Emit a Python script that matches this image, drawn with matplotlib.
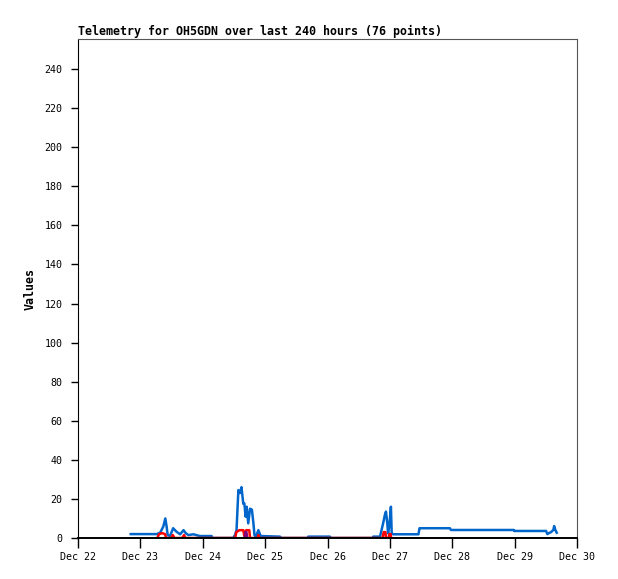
import matplotlib
matplotlib.use('Agg')
import matplotlib.pyplot as plt
import matplotlib.dates as mdates
import pandas as pd

# telemetry, hours after Dec 22 00:00
start = pd.Timestamp('2023-12-22 00:00')

blue_hours = [20.3, 30.3, 31.6, 32.8, 33.6, 34.1, 34.5, 35.4, 36.6, 37.9, 39.3, 40.6, 41.5, 42.5, 44.4, 46.9,
              51.4, 51.7, 59.7, 60.4, 61.0, 61.7, 62.3, 62.9, 63.6, 64.0, 64.5, 64.9, 65.5, 66.2, 66.9, 67.5,
              67.9, 68.4, 69.4, 70.3, 77.7, 78.2, 88.5, 88.6, 96.9, 97.4, 113.5, 113.6, 116.2, 117.4, 118.1,
              118.5, 119.0, 119.3, 119.8, 120.4, 120.7, 121.3, 131.0, 131.4, 143.1, 143.5, 167.7, 167.9,
              180.1, 180.6, 181.2, 182.0, 182.9, 183.2, 183.7, 184.2]
blue_vals = [2, 2, 2.7, 5.8, 10, 5.8, 1.5, 1, 5, 3.2, 1.9, 4, 2.4, 1.5, 1.9, 1,
             1, 0, 0, 1.5, 4, 24.5, 23, 26, 17.5, 17.7, 10.9, 16, 7.5, 15, 14.5, 7.5,
             1.5, 0.5, 4, 1, 0.7, 0, 0, 0.7, 0.7, 0, 0, 0.7, 0.7, 7.5, 12,
             13.5, 7.5, 2.4, 6.6, 16, 2.4, 1.9, 1.9, 5, 5, 4.1, 4.1, 3.6,
             3.6, 2, 2.5, 3, 4.1, 6.1, 4, 2.7]

red_hours = [30.5, 31.2, 32.3, 33.5, 33.9, 35.9, 36.5, 37.1, 40.1, 40.8, 41.3,
             60.5, 60.9, 62.1, 63.6, 64.0, 64.7, 65.9, 66.2, 69.2, 69.4, 69.6,
             117.2, 117.6, 118.3, 118.5, 119.5, 119.8, 120.3, 120.5]
red_vals = [0, 2, 2.5, 2, 0, 0, 1.5, 0, 0, 1.5, 0,
            0, 3, 4, 4, 1, 4, 4, 0, 0, 1.5, 0,
            0, 3, 3, 0, 0, 2, 2, 0]

purple_hours = [64.2, 64.4, 64.8, 65.1]
purple_vals = [0, 3, 3, 0]

zero_hours = [20.3, 184.5]
zero_vals = [0, 0]

yticks = list(range(0, 241, 20))


def to_time(hours):
    return [start + pd.Timedelta(hours=h) for h in hours]


fig = plt.figure(figsize=(6.18, 5.79), dpi=100)
ax = fig.add_axes([78 / 618, 41 / 579, 499 / 618, 499 / 579])

ax.plot(to_time(blue_hours), blue_vals, color='#0066cc', lw=1.8)
ax.plot(to_time(red_hours), red_vals, color='#ff0000', lw=1.8)
ax.plot(to_time(purple_hours), purple_vals, color='#800080', lw=1.8)
ax.plot(to_time(zero_hours), zero_vals, color='black', lw=1.8)

ax.set_xlim(start, start + pd.Timedelta(days=8))
ax.set_ylim(0, 255.4)
ax.set_yticks(yticks)
ax.xaxis.set_major_locator(mdates.DayLocator())
ax.xaxis.set_major_formatter(mdates.DateFormatter('%b %d'))

mono = 'DejaVu Sans Mono'
for lab in ax.get_xticklabels() + ax.get_yticklabels():
    lab.set_family(mono)
    lab.set_fontsize(7.2)
ax.tick_params(axis='x', length=7, width=1, pad=3)
ax.tick_params(axis='y', length=5, width=1, pad=6)

ax.spines['left'].set_color('black')
ax.spines['bottom'].set_color('black')
ax.spines['bottom'].set_linewidth(1.4)
ax.spines['top'].set_color('#555555')
ax.spines['right'].set_color('#555555')

ax.set_title('Telemetry for OH5GDN over last 240 hours (76 points)', loc='left',
             fontfamily=mono, fontweight='bold', fontsize=8.4, pad=3)
ax.set_ylabel('Values', fontfamily=mono, fontweight='bold', fontsize=8.4, labelpad=6)

fig.savefig('out.png', dpi=100)
